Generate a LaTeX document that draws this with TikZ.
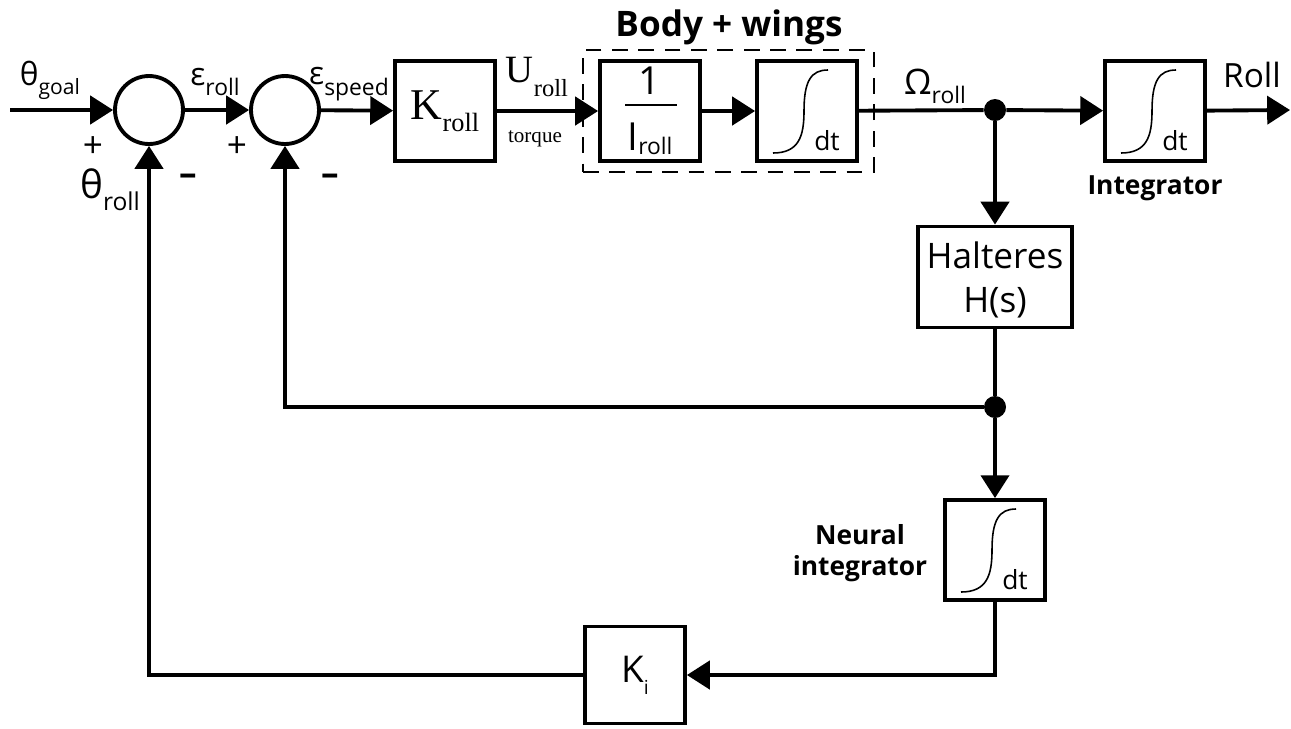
\documentclass[tikz,border=0pt]{standalone}
\usepackage{fontspec}
\setmainfont{Open Sans}
\newfontfamily\tms{Liberation Serif}
\usetikzlibrary{arrows.meta,positioning,fit,calc}
% size, drop, text
\newcommand{\lowsub}[3]{\raisebox{-#2}{\fontsize{#1}{#1}\selectfont #3}}
\newcommand{\fs}[1]{\fontsize{#1}{1.2\dimexpr#1\relax}\selectfont}

\begin{document}
\begin{tikzpicture}[x=0.02cm,y=-0.02cm,>={Triangle[length=13pt,width=16pt]},
 blk/.style={draw,line width=2.2pt,minimum width=2cm,minimum height=2cm,inner sep=0pt},
 sum/.style={draw,circle,line width=2.2pt,minimum size=1.36cm,inner sep=0pt},
 jn/.style={circle,fill,inner sep=0pt,minimum size=0.44cm},
 a/.style={->,line width=2.2pt},
 w/.style={line width=2.2pt},
 t/.style={inner sep=0pt,font=\fs{18pt}},
 bt/.style={inner sep=0pt,font=\fs{15pt}\bfseries,align=center}]
 \useasboundingbox (0,0) rectangle (1291,728);

 % forward path
 \coordinate (in) at (10,110);
 \node[sum] (s1) at (149,110) {};
 \node[sum] (s2) at (285,110) {};
 \node[blk] (kr) at (445,111) {};
 \node[blk] (ir) at (650,111) {};
 \node[blk] (i1) at (807,111) {};
 \node[jn] (j1) at (995,110) {};
 \node[blk] (i2) at (1155,111) {};
 \coordinate (out) at (1290,110);
 \node[draw,dashed,line width=1.6pt,dash pattern=on 9pt off 6pt,inner xsep=0.3cm,inner ysep=0.18cm,fit=(ir)(i1)] (bw) {};

 % feedback
 \node[blk,minimum width=3.08cm,minimum height=2.02cm,align=center,font=\fs{20pt},text depth=0pt] (ht) at (995,277) {Halteres\\[1pt]H(s)};
 \node[jn] (j2) at (995,407) {};
 \node[blk] (ni) at (995,550) {};
 \node[blk,minimum height=1.94cm] (ki) at (635,675) {};

 \draw[a] (in) -- (s1);
 \draw[a] (s1) -- (s2);
 \draw[a] (s2) -- (kr);
 \draw[a] (kr) -- (ir);
 \draw[a] (ir) -- (i1);
 \draw[w] (i1) -- (j1);
 \draw[a] (j1) -- (i2);
 \draw[a] (i2) -- (out);
 \draw[a] (j1) -- (ht);
 \draw[w] (ht) -- (j2);
 \draw[a] (j2) -- (ni);
 \draw[a] (j2) -| (s2);
 \draw[a] (ni) |- (ki);
 \draw[a] (ki) -| (s1);

 % integrators
 \foreach \n in {i1,i2,ni} {
  \draw[line width=0.9pt] ([shift={(-34,42)}]\n.center) .. controls ([shift={(-8,42)}]\n.center) and ([shift={(-3,25)}]\n.center) .. ([shift={(-3,0)}]\n.center)
   .. controls ([shift={(-3,-30)}]\n.center) and ([shift={(4,-41)}]\n.center) .. ([shift={(21,-41)}]\n.center);
  \node[t,font=\fs{15pt}] at ([shift={(20,30)}]\n.center) {dt};
 }

 % block texts
 \node[t,font=\tms\fs{25pt}] at (kr) {K\lowsub{15pt}{7pt}{roll}};
 \node[t,font=\fs{22pt}] (one) at (650,81) {1};
 \draw[line width=1.1pt] (625,105) -- (677,105);
 \node[t,font=\fs{22pt}] (iro) at (650,139) {I\lowsub{13pt}{2pt}{roll}};
 \node[t,font=\fs{21pt}] at (ki) {K\lowsub{11pt}{7pt}{i}};

 % signal labels
 \node[t] at (50,80) {θ\lowsub{12pt}{5pt}{goal}};
 \node[t] at (215,82) {ε\lowsub{13pt}{6pt}{roll}};
 \node[t] at (349,84) {ε\lowsub{13pt}{6pt}{speed}};
 \node[t,font=\fs{22pt}] at (110,190) {θ\lowsub{14pt}{7pt}{roll}};
 \node[t,font=\fs{20pt}] at (93,147) {+};
 \node[t,font=\fs{20pt}] at (237,147) {+};
 \node[t,font=\fs{20pt}\bfseries] at (188,180) {–};
 \node[t,font=\fs{20pt}\bfseries] at (330,180) {–};
 \node[t,font=\tms\fs{22pt}] at (537,77) {U\lowsub{14pt}{8pt}{roll}};
 \node[t,font=\tms\fs{12pt}] at (535,139) {torque};
 \node[t,font=\fs{20pt}] at (935,86) {Ω\lowsub{13pt}{5pt}{roll}};
 \node[t,font=\fs{19pt}] at (1252,75) {Roll};
 \node[bt,font=\fs{20pt}\bfseries] at (729,27) {Body + wings};
 \node[bt] at (1155,188) {Integrator};
 \node[bt] at (860,553) {Neural\\integrator};
\end{tikzpicture}
\end{document}
